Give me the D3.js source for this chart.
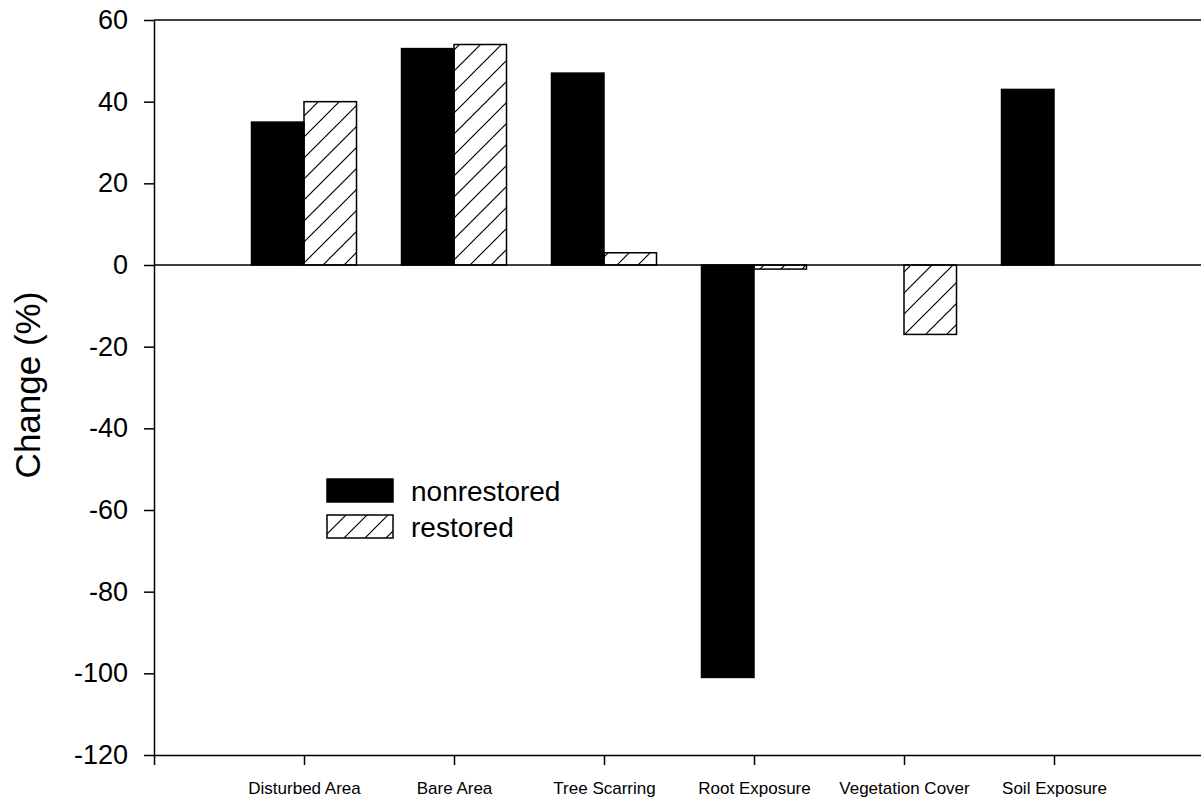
<!DOCTYPE html>
<html>
<head>
<meta charset="utf-8">
<script src="https://cdn.jsdelivr.net/npm/d3@7"></script>
<style>
  body { margin: 0; background: #fff; }
  text { font-family: Arial, "Liberation Sans", sans-serif; fill: #000; }
</style>
</head>
<body>
<div id="chart"></div>
<script>
const categories = ["Disturbed Area", "Bare Area", "Tree Scarring", "Root Exposure", "Vegetation Cover", "Soil Exposure"];
const nonrestored = [35, 53, 47, -101, null, 43];
const restored = [40, 54, 3, -1, -17, null];
const yTicks = [-120, -100, -80, -60, -40, -20, 0, 20, 40, 60];

const width = 1201, height = 799;

const svg = d3.select("#chart").append("svg")
  .attr("width", width)
  .attr("height", height);

// diagonal hatch for the restored series
const defs = svg.append("defs");
defs.append("pattern")
  .attr("id", "hatch")
  .attr("patternUnits", "userSpaceOnUse")
  .attr("width", 21)
  .attr("height", 21)
  .append("path")
  .attr("d", "M0,21 L21,0 M-5,5 L5,-5 M16,26 L26,16")
  .attr("stroke", "#000")
  .attr("stroke-width", 1.2);

// categories sit at 1..6, frame runs 0..7
const x = d3.scaleLinear().domain([0, 7]).range([154, 1204]);
const y = d3.scaleLinear().domain([-120, 60]).range([755, 20]);
const barW = (x(1) - x(0)) * 0.35;

// frame top line
svg.append("line")
  .attr("x1", x(0)).attr("x2", x(7))
  .attr("y1", y(60)).attr("y2", y(60))
  .attr("stroke", "#000").attr("stroke-width", 1.5);

// bars
const series = [
  { name: "nonrestored", values: nonrestored, fill: "#000", offset: -1 },
  { name: "restored", values: restored, fill: "url(#hatch)", offset: 0 }
];

series.forEach((s) => {
  svg.append("g")
    .selectAll("rect")
    .data(s.values.map((v, i) => ({ v, i })).filter((d) => d.v !== null))
    .join("rect")
    .attr("x", (d) => x(d.i + 1) + s.offset * barW)
    .attr("width", barW)
    .attr("y", (d) => Math.min(y(d.v), y(0)))
    .attr("height", (d) => Math.abs(y(d.v) - y(0)))
    .attr("fill", s.fill)
    .attr("stroke", "#000")
    .attr("stroke-width", 1.5);
});

// zero line
svg.append("line")
  .attr("x1", x(0)).attr("x2", x(7))
  .attr("y1", y(0)).attr("y2", y(0))
  .attr("stroke", "#000").attr("stroke-width", 1.5);

// y axis (plain hyphen for negatives)
const yAxis = svg.append("g")
  .attr("transform", `translate(${x(0)},0)`)
  .call(d3.axisLeft(y).tickValues(yTicks).tickSize(10).tickPadding(16).tickSizeOuter(0)
    .tickFormat((d) => String(d)));
yAxis.selectAll("text").style("font-size", "27px").attr("font-family", null);
yAxis.selectAll("line, path").attr("stroke", "#000").attr("stroke-width", 1.5);

// x axis
const xAxis = svg.append("g")
  .attr("transform", `translate(0,${y(-120)})`)
  .call(d3.axisBottom(x).tickValues(d3.range(0, 8)).tickSize(10).tickSizeOuter(0)
    .tickFormat((d) => categories[d - 1] || ""));
xAxis.selectAll("text").style("font-size", "17px").attr("y", 27).attr("dy", "0.71em").attr("font-family", null);
xAxis.selectAll("line, path").attr("stroke", "#000").attr("stroke-width", 1.5);

// y title
svg.append("text")
  .attr("transform", "translate(40,385) rotate(-90)")
  .attr("text-anchor", "middle")
  .style("font-size", "35px")
  .text("Change (%)");

// legend
const legend = svg.append("g");
series.forEach((s, i) => {
  legend.append("rect")
    .attr("x", 327).attr("y", 479 + i * 36)
    .attr("width", 66).attr("height", 23)
    .attr("fill", s.fill)
    .attr("stroke", "#000").attr("stroke-width", 1.5);
  legend.append("text")
    .attr("x", 411).attr("y", 501 + i * 36)
    .style("font-size", "28px")
    .text(s.name);
});
</script>
</body>
</html>
